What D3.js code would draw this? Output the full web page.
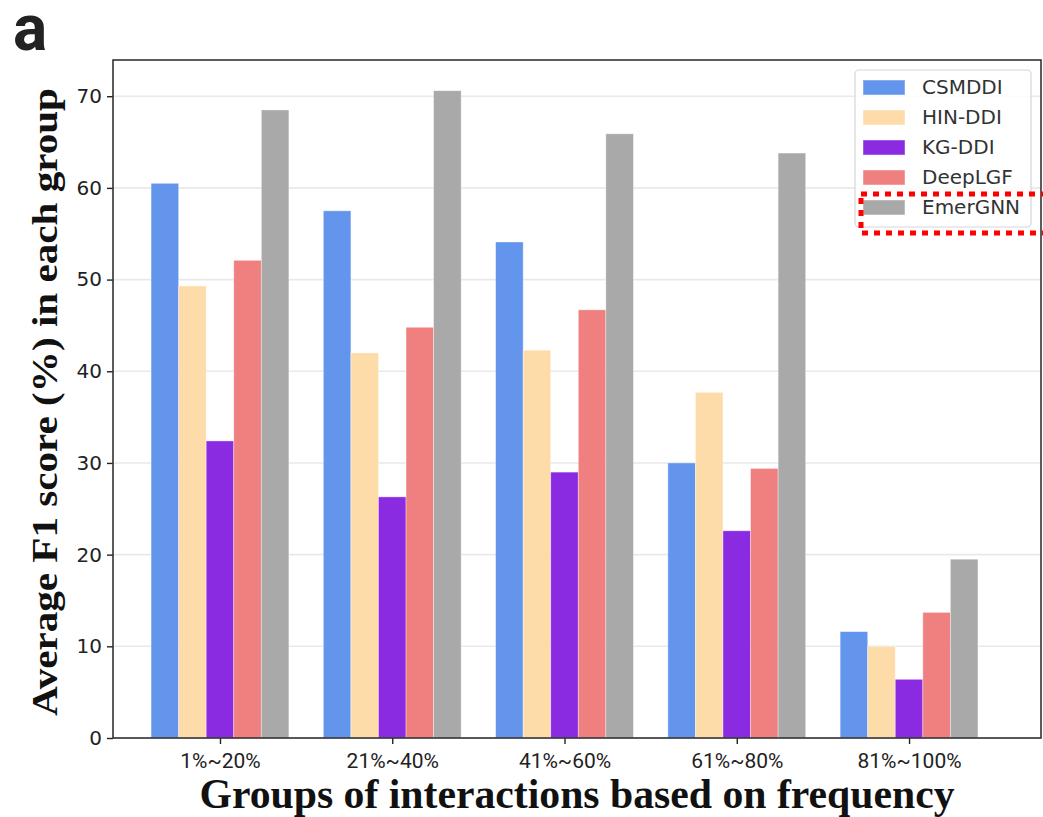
<!DOCTYPE html>
<html>
<head>
<meta charset="utf-8">
<script src="https://cdn.jsdelivr.net/npm/d3@7"></script>
<style>
  html, body { margin: 0; padding: 0; background: #fff; }
  svg { display: block; }
</style>
</head>
<body>
<svg id="chart" width="1043" height="817"></svg>
<script>
// Frequency groups along the x axis
const groups = ["1%~20%", "21%~40%", "41%~60%", "61%~80%", "81%~100%"];

// Methods compared in each group
const methods = ["CSMDDI", "HIN-DDI", "KG-DDI", "DeepLGF", "EmerGNN"];
const methodColors = ["#6495ED", "#FDDCA9", "#8A2BE2", "#F08080", "#A9A9A9"];

// Average F1 score (%) per method, one value per group
const csmddi  = [60.5, 57.5, 54.1, 30.0, 11.6];
const hinddi  = [49.3, 42.0, 42.3, 37.7, 10.0];
const kgddi   = [32.4, 26.3, 29.0, 22.6, 6.4];
const deeplgf = [52.1, 44.8, 46.7, 29.4, 13.7];
const emergnn = [68.5, 70.6, 65.9, 63.8, 19.5];

const yTicks = [0, 10, 20, 30, 40, 50, 60, 70];

const series = [csmddi, hinddi, kgddi, deeplgf, emergnn];

const svg = d3.select("#chart");

const plot = { left: 113, right: 1041, top: 60, bottom: 738 };
const barWidth = 0.16;

const x = d3.scaleLinear().domain([-0.621, 4.766]).range([plot.left, plot.right]);
const y = d3.scaleLinear().domain([0, 73.95]).range([plot.bottom, plot.top]);

// Horizontal grid lines
svg.append("g")
  .selectAll("line")
  .data(yTicks)
  .join("line")
  .attr("x1", plot.left).attr("x2", plot.right)
  .attr("y1", d => y(d)).attr("y2", d => y(d))
  .attr("stroke", "#e9e9e9")
  .attr("stroke-width", 1.6);

// Grouped bars
const bars = svg.append("g");
series.forEach((vals, k) => {
  bars.selectAll(null)
    .data(vals)
    .join("rect")
    .attr("x", (d, i) => x(i + (k - 2.5) * barWidth))
    .attr("width", x(barWidth) - x(0))
    .attr("y", d => y(d))
    .attr("height", d => y(0) - y(d))
    .attr("fill", methodColors[k])
    .attr("stroke", "rgba(255,255,255,0.45)")
    .attr("stroke-width", 0.8);
});

// Axes
const yAxis = d3.axisLeft(y).tickValues(yTicks).tickSize(6).tickPadding(5);
const gy = svg.append("g").attr("transform", `translate(${plot.left},0)`).call(yAxis);
gy.select(".domain").remove();
gy.selectAll(".tick line").attr("stroke", "#222").attr("stroke-width", 1.4);
gy.selectAll(".tick text")
  .attr("font-family", "DejaVu Sans, sans-serif")
  .attr("font-size", 20)
  .attr("fill", "#222");

const xAxis = d3.axisBottom(x)
  .tickValues(d3.range(groups.length))
  .tickFormat(i => groups[i])
  .tickSize(6).tickPadding(6);
const gx = svg.append("g").attr("transform", `translate(0,${plot.bottom})`).call(xAxis);
gx.select(".domain").remove();
gx.selectAll(".tick line").attr("stroke", "#222").attr("stroke-width", 1.4);
gx.selectAll(".tick text")
  .attr("font-family", "Roboto, sans-serif")
  .attr("font-size", 21)
  .attr("fill", "#222")
  .attr("dy", "0.85em");

// Frame
svg.append("rect")
  .attr("x", plot.left).attr("y", plot.top)
  .attr("width", plot.right - plot.left).attr("height", plot.bottom - plot.top)
  .attr("fill", "none")
  .attr("stroke", "#333")
  .attr("stroke-width", 1.6);

// Axis titles
svg.append("text")
  .attr("transform", `translate(57, ${(plot.top + plot.bottom) / 2 + 3}) rotate(-90)`)
  .attr("text-anchor", "middle")
  .attr("font-family", "Liberation Serif, Times New Roman, serif")
  .attr("font-weight", "bold")
  .attr("font-size", 36)
  .attr("textLength", 628)
  .attr("lengthAdjust", "spacingAndGlyphs")
  .attr("fill", "#111")
  .text("Average F1 score (%) in each group");

svg.append("text")
  .attr("x", 577).attr("y", 808)
  .attr("text-anchor", "middle")
  .attr("font-family", "Liberation Serif, Times New Roman, serif")
  .attr("font-weight", "bold")
  .attr("font-size", 42)
  .attr("textLength", 755)
  .attr("lengthAdjust", "spacingAndGlyphs")
  .attr("fill", "#111")
  .text("Groups of interactions based on frequency");

// Panel letter
svg.append("text")
  .attr("x", 13).attr("y", 50)
  .attr("font-family", "Roboto, sans-serif")
  .attr("font-weight", 700)
  .attr("font-size", 64)
  .attr("fill", "#222")
  .text("a");

// Legend
const legend = svg.append("g");
legend.append("rect")
  .attr("x", 855).attr("y", 70).attr("width", 176).attr("height", 157)
  .attr("rx", 4)
  .attr("fill", "rgba(255,255,255,0.85)")
  .attr("stroke", "#d6d6d6")
  .attr("stroke-width", 1.2);
methods.forEach((m, k) => {
  const cy = 87 + k * 30;
  legend.append("rect")
    .attr("x", 863).attr("y", cy - 7).attr("width", 42).attr("height", 15)
    .attr("fill", methodColors[k])
    .attr("stroke", "rgba(255,255,255,0.45)");
  legend.append("text")
    .attr("x", 922).attr("y", cy)
    .attr("dy", "0.36em")
    .attr("font-family", "DejaVu Sans, sans-serif")
    .attr("font-size", 20)
    .attr("fill", "#333")
    .text(m);
});

// Dotted highlight around the EmerGNN entry
svg.append("rect")
  .attr("x", 861).attr("y", 194).attr("width", 200).attr("height", 39)
  .attr("fill", "none")
  .attr("stroke", "#ff0000")
  .attr("stroke-width", 5)
  .attr("stroke-dasharray", "6,6");
</script>
</body>
</html>
